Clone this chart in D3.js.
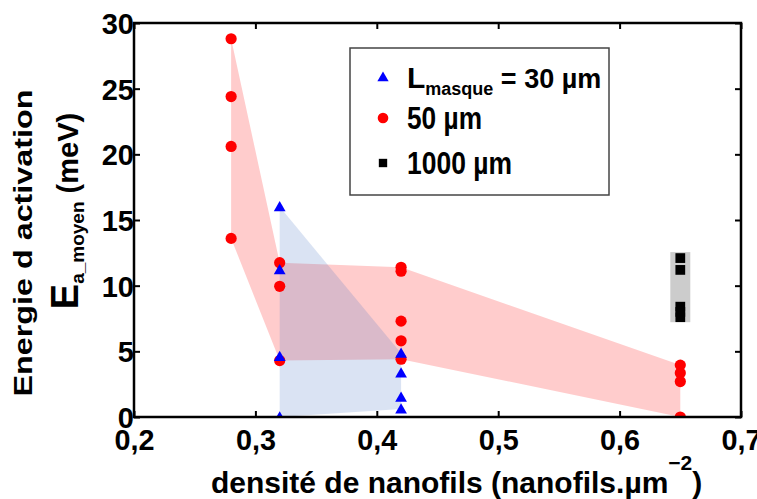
<!DOCTYPE html>
<html><head><meta charset="utf-8">
<script src="https://cdn.jsdelivr.net/npm/d3@7"></script>
<style>body{margin:0;background:#fff}svg{display:block}text{font-family:"Liberation Sans",Arial,sans-serif;font-weight:bold;fill:#000}</style>
</head><body><svg id="c" width="757" height="499"></svg>
<script>
// ---- data ----
const xTicks = [0.2, 0.3, 0.4, 0.5, 0.6, 0.7];
const yTicks = [0, 5, 10, 15, 20, 25, 30];
// L masque = 30 µm (blue triangles)
const triX = [0.32, 0.32, 0.32, 0.32, 0.42, 0.42, 0.42, 0.42];
const triY = [16.0, 11.2, 4.6, 0.0, 4.85, 3.35, 1.5, 0.6];
// 50 µm (red circles)
const cirX = [0.28, 0.28, 0.28, 0.28, 0.32, 0.32, 0.32, 0.42, 0.42, 0.42, 0.42, 0.42, 0.65, 0.65, 0.65, 0.65];
const cirY = [28.8, 24.4, 20.6, 13.6, 11.75, 9.95, 4.3, 11.4, 11.1, 7.3, 5.8, 4.4, 3.95, 3.35, 2.7, 0.0];
// 1000 µm (black squares)
const sqX = [0.65, 0.65, 0.65, 0.65, 0.65];
const sqY = [12.1, 11.2, 8.4, 8.0, 7.6];
const legendLabels = ["= 30 µm", "50 µm", "1000 µm"];

// ---- layout ----
const svg = d3.select("#c");
const L = 134, R = 741, T = 23, B = 417;
const x = d3.scaleLinear([0.2, 0.7], [L, R]);
const y = d3.scaleLinear([0, 30], [B, T]);
const fmt = d => d3.format(".1f")(d).replace(".", ",");

svg.append("defs").append("clipPath").attr("id", "clip")
  .append("rect").attr("x", L).attr("y", T).attr("width", R - L).attr("height", B - T);

function band(xs, ys) {
  const g = d3.groups(xs.map((v, i) => [v, ys[i]]), d => d[0]).sort((a, b) => a[0] - b[0]);
  return g.map(([k, arr]) => ({ x: k, lo: d3.min(arr, d => d[1]), hi: d3.max(arr, d => d[1]) }));
}
const area = d3.area().x(d => x(d.x)).y0(d => y(d.lo)).y1(d => y(d.hi));
const plot = svg.append("g").attr("clip-path", "url(#clip)");

plot.append("path").datum(band(cirX, cirY)).attr("d", area).attr("fill", "#ff0000").attr("fill-opacity", 0.2);
plot.append("path").datum(band(triX, triY)).attr("d", area).attr("fill", "#4472c4").attr("fill-opacity", 0.2);
// gray band for 1000 µm
const sb = band(sqX, sqY)[0];
plot.append("rect").attr("x", x(sb.x) - 10).attr("width", 20)
  .attr("y", y(sb.hi) - 6).attr("height", y(sb.lo) - y(sb.hi) + 11)
  .attr("fill", "#000").attr("fill-opacity", 0.2);

plot.selectAll(".cir").data(cirX).join("circle")
  .attr("cx", d => x(d)).attr("cy", (d, i) => y(cirY[i])).attr("r", 5.6).attr("fill", "#ff0000");
plot.selectAll(".sq").data(sqX).join("path")
  .attr("d", d3.symbol(d3.symbolSquare, 95))
  .attr("transform", (d, i) => `translate(${x(d)},${y(sqY[i])})`).attr("fill", "#000");
plot.selectAll(".tri").data(triX).join("path")
  .attr("d", d3.symbol(d3.symbolTriangle, 60))
  .attr("transform", (d, i) => `translate(${x(d)},${y(triY[i]) + 1})`).attr("fill", "#0000ff");

// ---- axes ----
const ax = svg.append("g");
ax.append("g").attr("transform", `translate(0,${B})`)
  .call(d3.axisBottom(x).tickValues(xTicks).tickFormat(fmt).tickSizeInner(-6).tickSizeOuter(0).tickPadding(12))
  .call(g => { g.select(".domain").remove(); g.selectAll("text").attr("font-size", 30).attr("font-family", null).attr("dy", "0.7em").attr("textLength", 40).attr("lengthAdjust", "spacingAndGlyphs"); g.selectAll("line").attr("stroke-width", 2); });
ax.append("g").attr("transform", `translate(${L},0)`)
  .call(d3.axisLeft(y).tickValues(yTicks).tickSizeInner(-6).tickSizeOuter(0).tickPadding(6))
  .call(g => { g.select(".domain").remove(); g.selectAll("text").attr("font-size", 29).attr("font-family", null).attr("dx", 6).attr("dy", "0.36em"); g.selectAll("line").attr("stroke-width", 2); });
ax.append("g").attr("transform", `translate(0,${T})`)
  .call(d3.axisTop(x).tickValues(xTicks).tickFormat("").tickSizeInner(-6).tickSizeOuter(0))
  .call(g => { g.select(".domain").remove(); g.selectAll("line").attr("stroke-width", 2); });
ax.append("g").attr("transform", `translate(${R},0)`)
  .call(d3.axisRight(y).tickValues(yTicks).tickFormat("").tickSizeInner(-6).tickSizeOuter(0))
  .call(g => { g.select(".domain").remove(); g.selectAll("line").attr("stroke-width", 2); });
svg.append("rect").attr("x", L).attr("y", T).attr("width", R - L).attr("height", B - T)
  .attr("fill", "none").attr("stroke", "#000").attr("stroke-width", 2.5);

// ---- titles ----
const xt = svg.append("text").attr("x", 211).attr("y", 493).attr("font-size", 30);
xt.append("tspan").text("densité de nanofils (nanofils.µm");
xt.append("tspan").attr("dy", -23).attr("font-size", 21).text("−2");
xt.append("tspan").attr("dy", 23).text(")");

svg.append("text").attr("transform", "translate(32,243) rotate(-90)").attr("text-anchor", "middle")
  .attr("font-size", 26).attr("textLength", 307).attr("lengthAdjust", "spacingAndGlyphs")
  .text("Energie d activation");
const yt = svg.append("text").attr("transform", "translate(78,211) rotate(-90)").attr("text-anchor", "middle");
yt.append("tspan").attr("font-size", 38).text("E");
yt.append("tspan").attr("font-size", 19).attr("dy", 6).text("a_moyen");
yt.append("tspan").attr("font-size", 29).attr("dy", -6).text(" (meV)");

// ---- legend ----
const lg = svg.append("g");
lg.append("rect").attr("x", 350).attr("y", 48).attr("width", 259).attr("height", 147)
  .attr("fill", "#fff").attr("stroke", "#444").attr("stroke-width", 1.5);
const rowsY = [77, 118, 163];
lg.append("path").attr("d", d3.symbol(d3.symbolTriangle, 55)).attr("transform", `translate(383,${rowsY[0] + 1})`).attr("fill", "#0000ff");
lg.append("circle").attr("cx", 383).attr("cy", rowsY[1]).attr("r", 5.3).attr("fill", "#ff0000");
lg.append("path").attr("d", d3.symbol(d3.symbolSquare, 70)).attr("transform", `translate(383,${rowsY[2]})`).attr("fill", "#000");
const t1 = lg.append("text").attr("x", 407).attr("y", rowsY[0] + 11).attr("font-size", 27);
t1.append("tspan").attr("font-size", 30).text("L");
t1.append("tspan").attr("font-size", 18).attr("dy", 7).text("masque");
t1.append("tspan").attr("dy", -7).text(" " + legendLabels[0]);
lg.append("text").attr("x", 407).attr("y", rowsY[1] + 11).attr("font-size", 31)
  .attr("textLength", 75).attr("lengthAdjust", "spacingAndGlyphs").text(legendLabels[1]);
lg.append("text").attr("x", 407).attr("y", rowsY[2] + 11).attr("font-size", 31)
  .attr("textLength", 105).attr("lengthAdjust", "spacingAndGlyphs").text(legendLabels[2]);
</script></body></html>
